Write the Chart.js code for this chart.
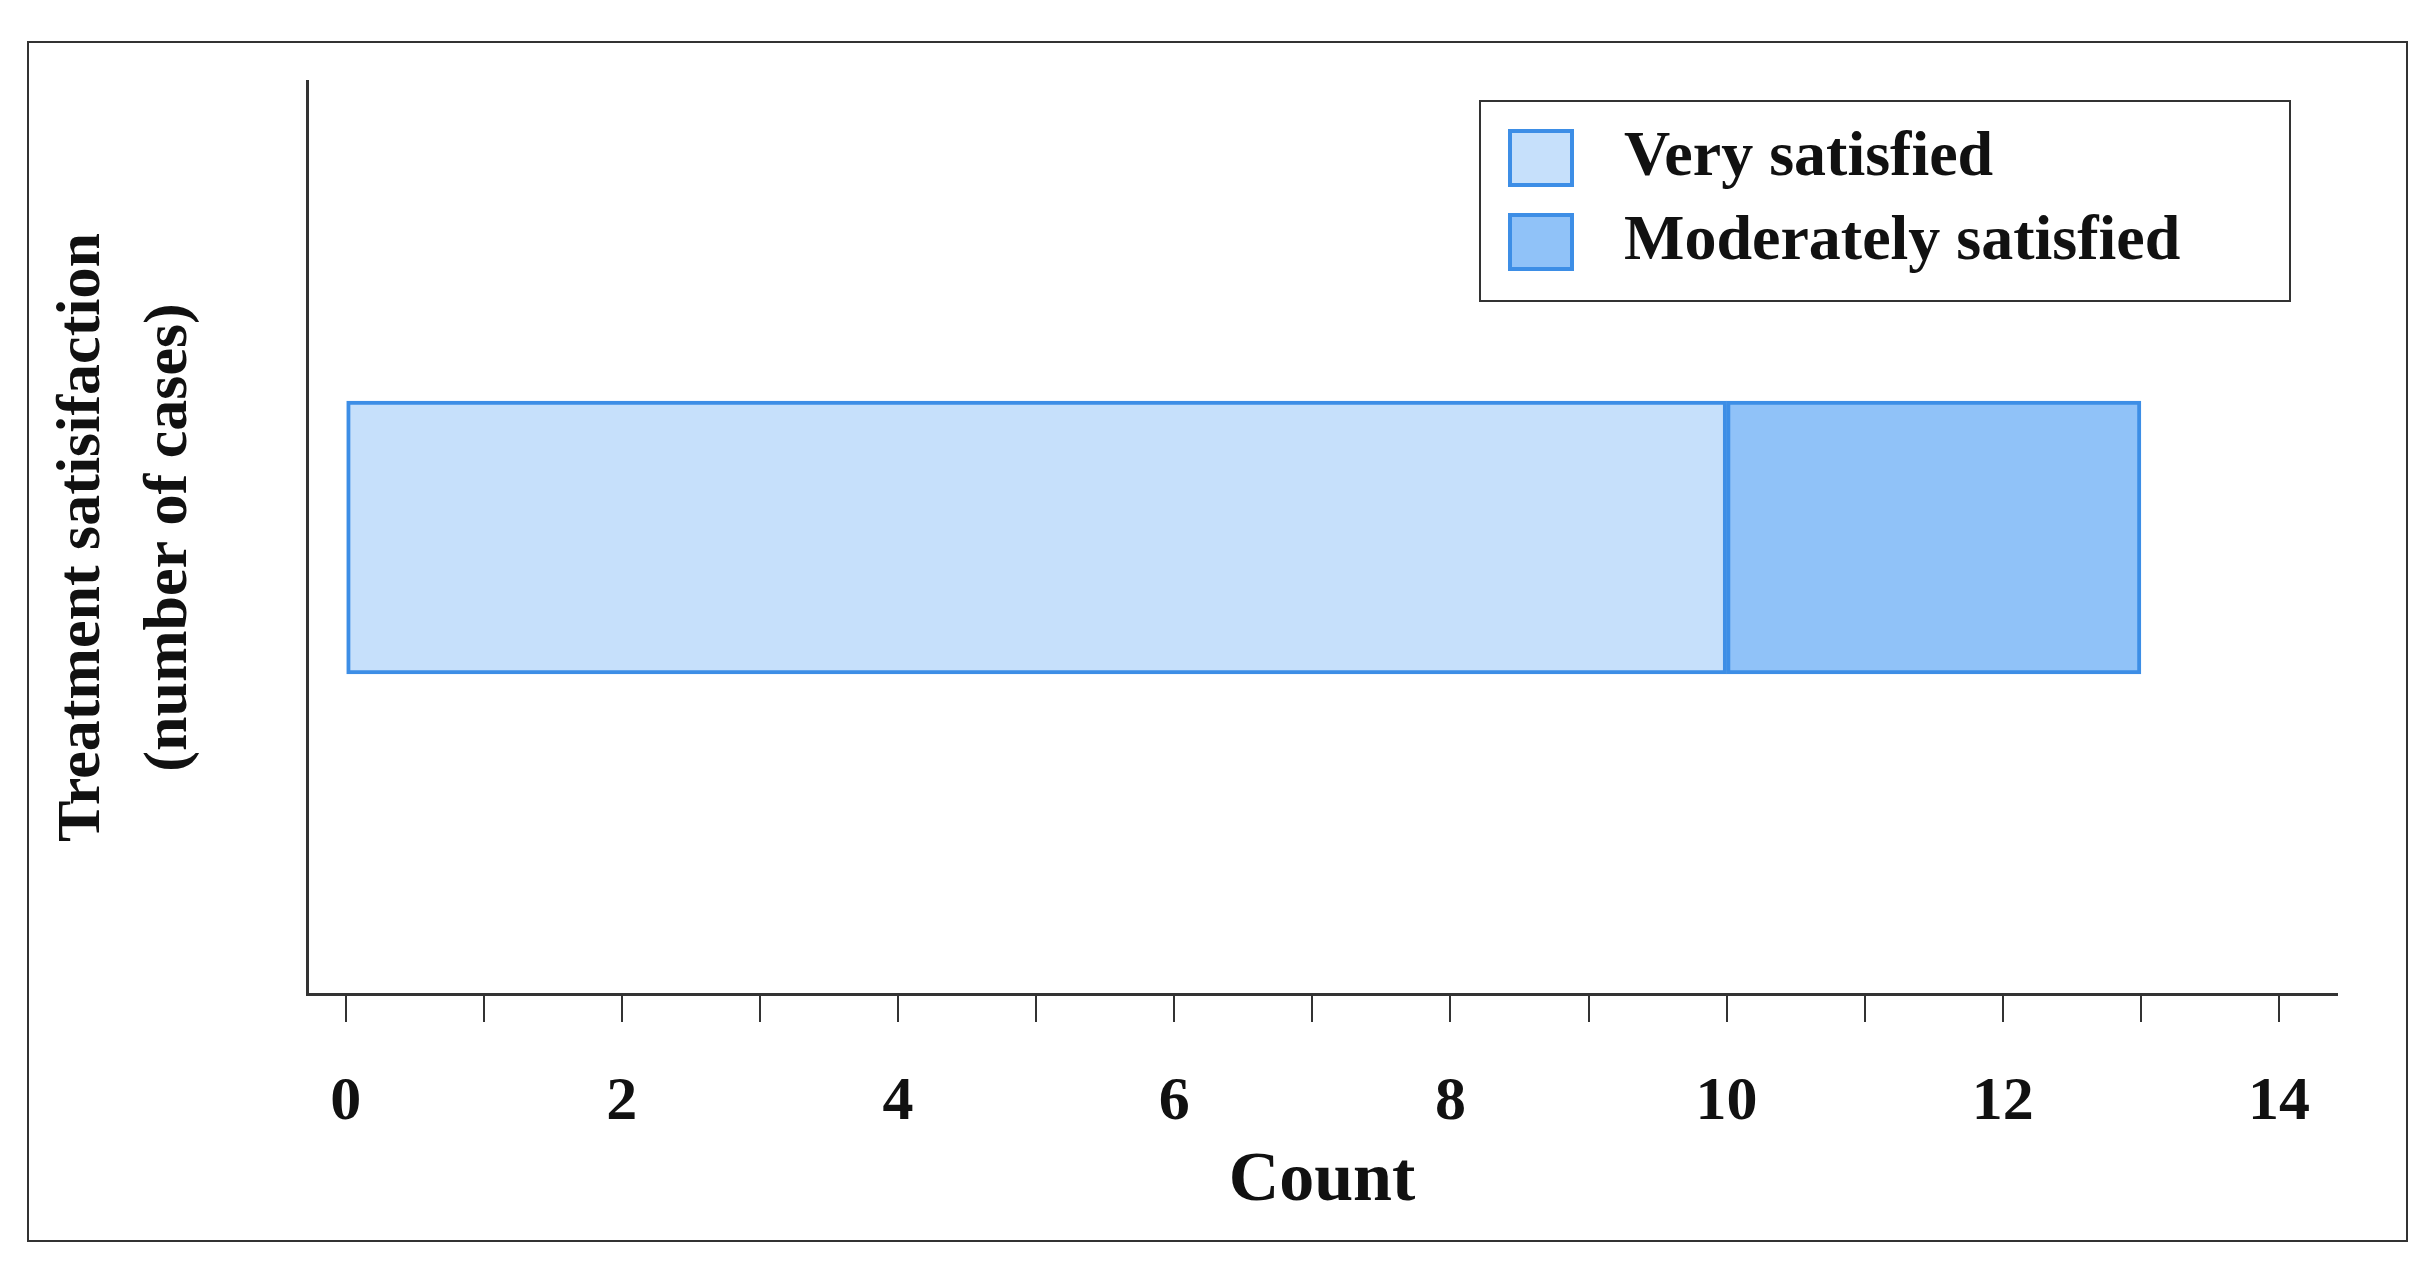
<!DOCTYPE html>
<html>
<head>
<meta charset="utf-8">
<script src="https://cdn.jsdelivr.net/npm/chart.js@4"></script>
<style>
  html, body { margin: 0; padding: 0; background: #fff; }
  #wrap { width: 2430px; height: 1277px; }
</style>
</head>
<body>
<div id="wrap"><canvas id="satChart" width="2430" height="1277"></canvas></div>
<script>
// data
const categories = [''];
const seriesNames = ['Very satisfied', 'Moderately satisfied'];
const verySatisfied = [10];
const moderatelySatisfied = [3];
const xTicks = [0, 1, 2, 3, 4, 5, 6, 7, 8, 9, 10, 11, 12, 13, 14];

const serif = '"Liberation Serif", "DejaVu Serif", serif';

// frame around the whole figure + boxed legend
const framePlugin = {
    id: 'frame',
    afterDraw(chart) {
        const ctx = chart.ctx;
        ctx.save();
        ctx.strokeStyle = '#333';
        ctx.lineWidth = 2;
        ctx.strokeRect(28, 42, 2379, 1199);

        // legend box
        const lx = 1480, ly = 101, lw = 810, lh = 200;
        ctx.strokeRect(lx, ly, lw, lh);
        chart.data.datasets.forEach((ds, i) => {
            const y = ly + 30 + i * 84;
            ctx.fillStyle = ds.backgroundColor;
            ctx.fillRect(lx + 30, y, 62, 54);
            ctx.strokeStyle = ds.borderColor;
            ctx.lineWidth = 4;
            ctx.strokeRect(lx + 30, y, 62, 54);
            ctx.fillStyle = '#111';
            ctx.font = 'bold 64px ' + serif;
            ctx.textBaseline = 'middle';
            ctx.fillText(ds.label, lx + 144, y + 27);
        });
        ctx.restore();
    }
};

new Chart(document.getElementById('satChart').getContext('2d'), {
    type: 'bar',
    data: {
        labels: categories,
        datasets: [{
            label: seriesNames[0],
            data: verySatisfied,
            backgroundColor: '#c6e0fb',
            borderColor: '#3d8ee6',
            borderWidth: 4,
            borderSkipped: false,
            barThickness: 273
        }, {
            label: seriesNames[1],
            data: moderatelySatisfied,
            backgroundColor: '#90c2f8',
            borderColor: '#3d8ee6',
            borderWidth: 4,
            borderSkipped: false,
            barThickness: 273
        }]
    },
    options: {
        indexAxis: 'y',
        responsive: false,
        animation: false,
        layout: { padding: { top: 81, right: 93, bottom: 43, left: 40 } },
        plugins: { legend: { display: false }, tooltip: { enabled: false } },
        scales: {
            x: {
                stacked: true,
                min: -0.28,
                max: 14.42,
                afterBuildTicks: (scale) => { scale.ticks = xTicks.map(v => ({ value: v })); },
                afterFit: (scale) => { scale.height = 240; },
                border: { color: '#333', width: 3 },
                grid: { drawOnChartArea: false, tickLength: 28, color: '#333', lineWidth: 2 },
                ticks: {
                    padding: 44,
                    maxRotation: 0,
                    autoSkip: false,
                    color: '#111',
                    font: { family: serif, size: 62, weight: 'bold' },
                    callback: (v) => (v % 2 === 0 ? String(v) : '')
                },
                title: {
                    display: true,
                    text: 'Count',
                    color: '#111',
                    font: { family: serif, size: 70, weight: 'bold' },
                    padding: { top: 0, bottom: 10 }
                }
            },
            y: {
                stacked: true,
                afterFit: (scale) => { scale.width = 267; },
                border: { color: '#333', width: 3 },
                grid: { display: false },
                ticks: { display: false },
                title: {
                    display: true,
                    text: ['Treatment satisifaction', '(number of cases)'],
                    color: '#111',
                    font: { family: serif, size: 62, weight: 'bold', lineHeight: 1.4 },
                    padding: { top: 0, bottom: 0 }
                }
            }
        }
    },
    plugins: [framePlugin]
});
</script>
</body>
</html>
